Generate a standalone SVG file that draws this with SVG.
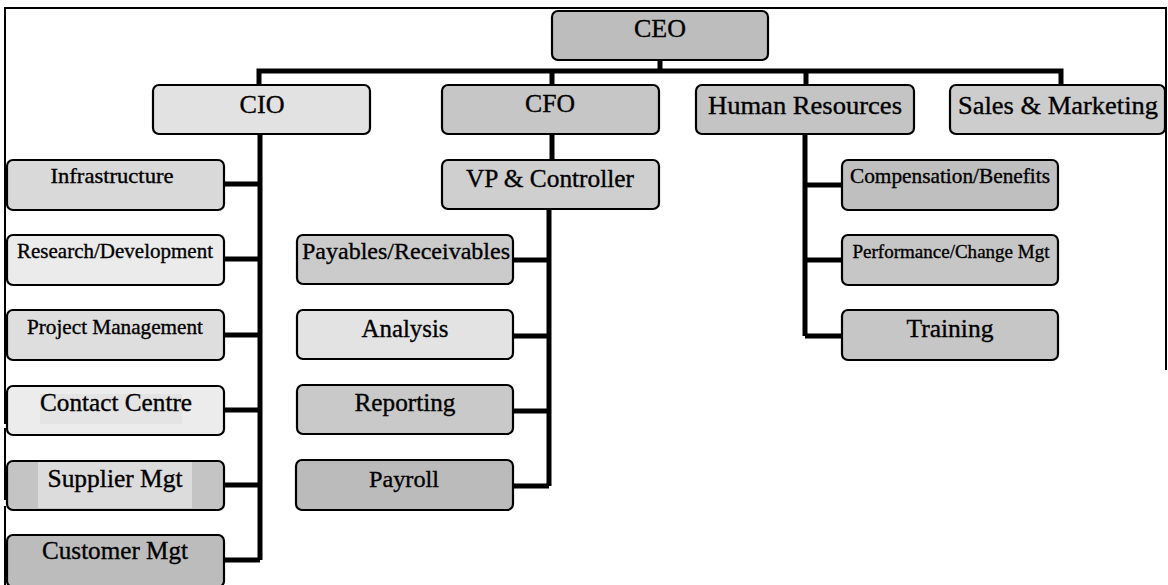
<svg xmlns="http://www.w3.org/2000/svg" width="1168" height="585" viewBox="0 0 1168 585">
<style>
.box{stroke:#000;stroke-width:2.2}
.t{font-family:"Liberation Serif","Times New Roman",serif;fill:#000;stroke:#000;stroke-width:0.35;text-anchor:middle}
.conn{fill:none;stroke:#000;stroke-width:5;stroke-linejoin:miter;stroke-linecap:butt}
.frame{fill:none;stroke:#000;stroke-width:2}
</style>
<rect width="1168" height="585" fill="#fff"/>
<g id="frame">
<path class="frame" d="M5,585 V506 M5,500 V428 M5,424 V8 H1166 V370"/>
</g>
<g id="connectors">
<path class="conn" d="M660,60 V71"/>
<path class="conn" d="M259,86 V71 H1061 V86"/>
<path class="conn" d="M552,71 V86"/>
<path class="conn" d="M806,71 V86"/>
<path class="conn" d="M260,134 V560 M224,184 H260 M224,259 H260 M224,335 H260 M224,410 H260 M224,485 H260 M224,560 H260"/>
<path class="conn" d="M552,134 V161"/>
<path class="conn" d="M549,209 V486 M513,260 H549 M513,336 H549 M513,411 H549 M513,486 H549"/>
<path class="conn" d="M805,134 V336 M805,185 H842 M805,260 H842 M805,336 H842"/>
</g>
<g id="ceo"><rect class="box" x="552" y="11" width="216" height="49" rx="6" fill="#bdbdbd"/><text class="t" x="660" y="37" font-size="26" textLength="52" lengthAdjust="spacingAndGlyphs">CEO</text></g>
<g id="cio"><rect class="box" x="153" y="85" width="217" height="49" rx="6" fill="#e2e2e2"/><text class="t" x="262" y="113" font-size="26" textLength="45" lengthAdjust="spacingAndGlyphs">CIO</text></g>
<g id="cfo"><rect class="box" x="442" y="85" width="217" height="49" rx="6" fill="#c6c6c6"/><text class="t" x="550" y="112" font-size="26" textLength="50" lengthAdjust="spacingAndGlyphs">CFO</text></g>
<g id="hr"><rect class="box" x="696" y="85" width="218" height="49" rx="6" fill="#c4c4c4"/><text class="t" x="805" y="114" font-size="26" textLength="194" lengthAdjust="spacingAndGlyphs">Human Resources</text></g>
<g id="sales"><rect class="box" x="950" y="85" width="215" height="49" rx="6" fill="#cdcdcd"/><text class="t" x="1058" y="114" font-size="26" textLength="200" lengthAdjust="spacingAndGlyphs">Sales &amp; Marketing</text></g>
<g id="infrastructure"><rect class="box" x="7" y="160" width="217" height="50" rx="6" fill="#d9d9d9"/><text class="t" x="112" y="183" font-size="21" textLength="123" lengthAdjust="spacingAndGlyphs">Infrastructure</text></g>
<g id="research"><rect class="box" x="7" y="235" width="217" height="50" rx="6" fill="#ebebeb"/><text class="t" x="115" y="258" font-size="21" textLength="196" lengthAdjust="spacingAndGlyphs">Research/Development</text></g>
<g id="project"><rect class="box" x="7" y="310" width="217" height="50" rx="6" fill="#dedede"/><text class="t" x="115" y="334" font-size="21" textLength="176" lengthAdjust="spacingAndGlyphs">Project Management</text></g>
<g id="contact"><rect class="box" x="7" y="386" width="217" height="49" rx="6" fill="#ececec"/><rect x="40" y="394" width="142" height="30" fill="#e4e4e4"/><text class="t" x="116" y="411" font-size="25" textLength="152" lengthAdjust="spacingAndGlyphs">Contact Centre</text></g>
<g id="supplier"><rect class="box" x="7" y="461" width="217" height="49" rx="6" fill="#c4c4c4"/><rect x="38" y="462" width="154" height="46" fill="#dcdcdc"/><text class="t" x="115" y="487" font-size="25" textLength="135" lengthAdjust="spacingAndGlyphs">Supplier Mgt</text></g>
<g id="customer"><rect class="box" x="7" y="535" width="217" height="52" rx="6" fill="#bcbcbc"/><text class="t" x="115" y="559" font-size="25" textLength="146" lengthAdjust="spacingAndGlyphs">Customer Mgt</text></g>
<g id="vp"><rect class="box" x="442" y="160" width="217" height="49" rx="6" fill="#cfcfcf"/><text class="t" x="550" y="187" font-size="25" textLength="168" lengthAdjust="spacingAndGlyphs">VP &amp; Controller</text></g>
<g id="payables"><rect class="box" x="297" y="235" width="216" height="49" rx="6" fill="#cbcbcb"/><text class="t" x="406" y="259" font-size="24" textLength="208" lengthAdjust="spacingAndGlyphs">Payables/Receivables</text></g>
<g id="analysis"><rect class="box" x="297" y="310" width="216" height="49" rx="6" fill="#e3e3e3"/><text class="t" x="405" y="337" font-size="25" textLength="87" lengthAdjust="spacingAndGlyphs">Analysis</text></g>
<g id="reporting"><rect class="box" x="297" y="385" width="216" height="49" rx="6" fill="#c9c9c9"/><text class="t" x="405" y="411" font-size="25" textLength="101" lengthAdjust="spacingAndGlyphs">Reporting</text></g>
<g id="payroll"><rect class="box" x="296" y="460" width="217" height="50" rx="6" fill="#bbbbbb"/><text class="t" x="404" y="487" font-size="24" textLength="70" lengthAdjust="spacingAndGlyphs">Payroll</text></g>
<g id="compensation"><rect class="box" x="842" y="160" width="216" height="50" rx="6" fill="#bfbfbf"/><text class="t" x="950" y="183" font-size="21" textLength="200" lengthAdjust="spacingAndGlyphs">Compensation/Benefits</text></g>
<g id="performance"><rect class="box" x="842" y="235" width="216" height="50" rx="6" fill="#c6c6c6"/><text class="t" x="951" y="258" font-size="19" textLength="197" lengthAdjust="spacingAndGlyphs">Performance/Change Mgt</text></g>
<g id="training"><rect class="box" x="842" y="310" width="216" height="50" rx="6" fill="#c6c6c6"/><text class="t" x="950" y="337" font-size="25" textLength="87" lengthAdjust="spacingAndGlyphs">Training</text></g>
</svg>
